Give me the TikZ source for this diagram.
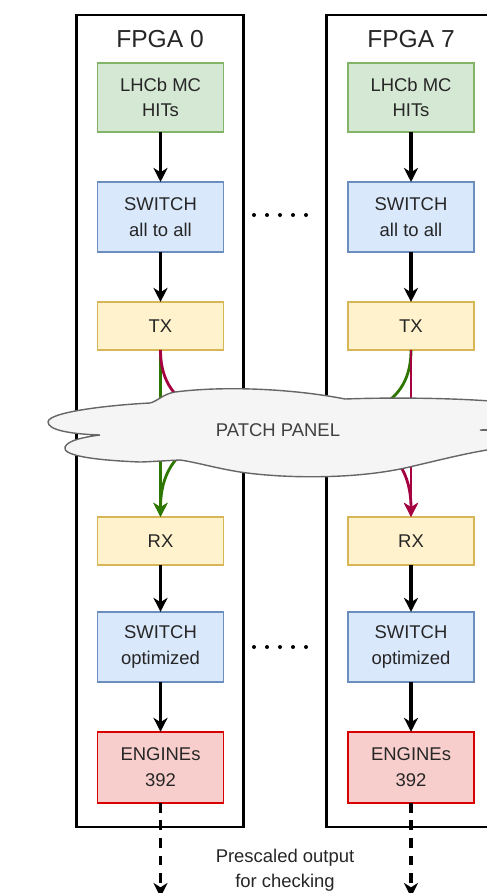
\documentclass[tikz,border=0pt]{standalone}
\usepackage{fontspec}
\setmainfont{Liberation Sans}
\usetikzlibrary{arrows.meta,positioning}
\definecolor{hitsfill}{HTML}{D5E8D4}
\definecolor{hitsdraw}{HTML}{82B366}
\definecolor{swfill}{HTML}{DAE8FC}
\definecolor{swdraw}{HTML}{6C8EBF}
\definecolor{trxfill}{HTML}{FFF2CC}
\definecolor{trxdraw}{HTML}{D6B656}
\definecolor{engfill}{HTML}{F8CECC}
\definecolor{engdraw}{HTML}{D80000}
\definecolor{linkgreen}{HTML}{2D7600}
\definecolor{linkred}{HTML}{A50040}
\definecolor{cloudfill}{HTML}{F5F5F5}
\definecolor{clouddraw}{HTML}{666666}

\begin{document}
\begin{tikzpicture}[x=0.02cm, y=-0.02cm, node distance=1cm,
  every node/.style={font=\fontsize{10.5}{14.5}\selectfont, text=black!85, align=center},
  blk/.style={rectangle, draw, line width=1pt, minimum width=2.52cm, inner sep=0pt, outer sep=0pt},
  hits/.style={blk, fill=hitsfill, draw=hitsdraw, minimum height=1.38cm},
  switch/.style={blk, fill=swfill, draw=swdraw, minimum height=1.4cm},
  trx/.style={blk, fill=trxfill, draw=trxdraw, minimum height=0.96cm},
  engine/.style={blk, fill=engfill, draw=engdraw, minimum height=1.42cm},
  fpga/.style={rectangle, draw, line width=1.5pt, minimum width=3.34cm, minimum height=16.24cm},
  title/.style={font=\fontsize{14}{16}\selectfont},
  flow/.style={-{Stealth[length=8pt,width=8pt,inset=2.5pt]}, line width=1.8pt},
  link/.style={flow, line width=1.6pt}]
\useasboundingbox (0,0) rectangle (487,893);

% FPGA 0
\node[fpga] (fpga0) at (160,421) {};
\node[title] (lbl0) at (160,39) {FPGA 0};
\node[hits] (hits0) at (160.5,97.5) {LHCb MC\\HITs};
\node[switch, below=of hits0] (sw0) {SWITCH\\all to all};
\node[trx, below=of sw0] (tx0) {TX};
\node[trx, below=3.34cm of tx0] (rx0) {RX};
\node[switch, below=0.94cm of rx0] (swopt0) {SWITCH\\optimized};
\node[engine, below=of swopt0] (eng0) {ENGINEs\\392};

% FPGA 7
\node[fpga] (fpga7) at (410,421) {};
\node[title] (lbl7) at (411,39) {FPGA 7};
\node[hits] (hits7) at (411,97.5) {LHCb MC\\HITs};
\node[switch, below=of hits7] (sw7) {SWITCH\\all to all};
\node[trx, below=of sw7] (tx7) {TX};
\node[trx, below=3.34cm of tx7] (rx7) {RX};
\node[switch, below=0.94cm of rx7] (swopt7) {SWITCH\\optimized};
\node[engine, below=of swopt7] (eng7) {ENGINEs\\392};

\draw[flow] (hits0) -- (sw0);
\draw[flow] (sw0) -- (tx0);
\draw[flow] (rx0) -- (swopt0);
\draw[flow] (swopt0) -- (eng0);
\draw[flow] (hits7) -- (sw7);
\draw[flow] (sw7) -- (tx7);
\draw[flow] (rx7) -- (swopt7);
\draw[flow] (swopt7) -- (eng7);

% links through the patch panel
\draw[link, linkgreen] (tx0) -- (rx0);
\draw[link, linkgreen] (tx7.south) .. controls (411,482) and (160.5,366) .. (rx0.north);
\draw[link, linkred] (tx0.south) .. controls (160.5,482) and (411,366) .. (rx7.north);
\draw[link, linkred] (tx7) -- (rx7);

% patch panel
\path[fill=cloudfill, draw=clouddraw, line width=0.8pt]
  (48,422) .. controls (48,412) and (110,405) .. (150,403)
  .. controls (158,401) and (163,394) .. (175,392)
  .. controls (230,385) and (300,390) .. (345,399)
  .. controls (400,397) and (480,398) .. (530,405)
  .. controls (570,410) and (560,428) .. (480,430)
  .. controls (560,433) and (560,445) .. (500,448)
  .. controls (470,452) and (440,460) .. (405,468)
  .. controls (350,480) and (280,478) .. (240,472)
  .. controls (215,468) and (195,462) .. (180,460)
  .. controls (160,461) and (145,462) .. (140,462)
  .. controls (90,460) and (62,455) .. (65,447)
  .. controls (68,440) and (85,437) .. (100,435)
  .. controls (70,434) and (48,430) .. (48,422) -- cycle;
\node[text=black!75] (pp) at (278,430) {PATCH PANEL};

% more FPGAs in between
\foreach \px in {254,267,280,293,306} {
  \fill (\px,215) circle[radius=0.04cm];
  \fill (\px,647) circle[radius=0.04cm];
}

% output
\coordinate (out0) at (160.5,897);
\coordinate (out7) at (411,897);
\draw[flow, dash pattern=on 5.5pt off 4.5pt] (eng0) -- (out0);
\draw[flow, dash pattern=on 5.5pt off 4.5pt] (eng7) -- (out7);
\node (outlbl) at (285,870) {Prescaled output\\for checking};
\end{tikzpicture}
\end{document}
